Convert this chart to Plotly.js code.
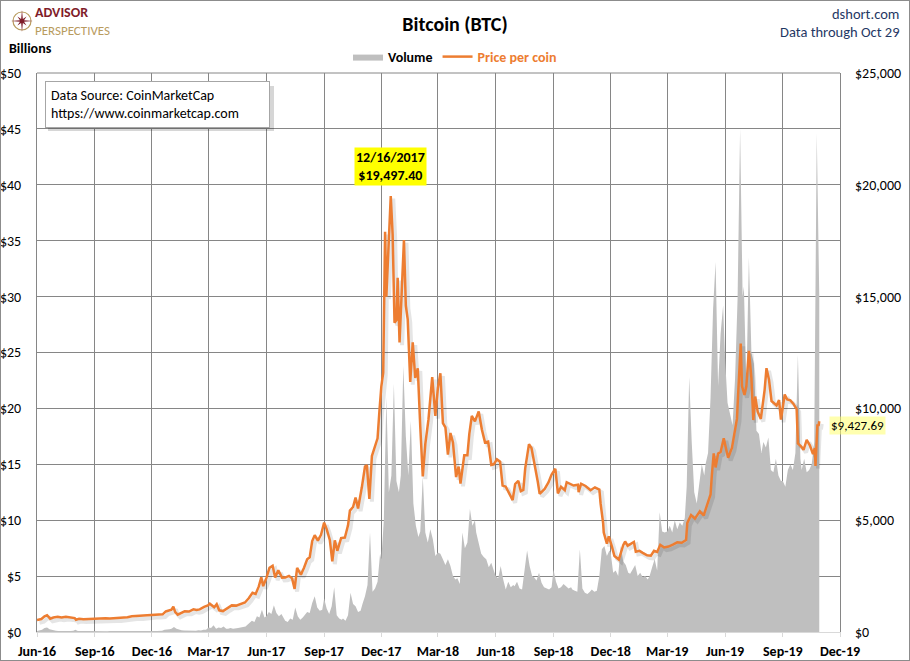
<!DOCTYPE html>
<html>
<head>
<meta charset="utf-8">
<script src="https://cdn.plot.ly/plotly-3.0.1.min.js"></script>
<style>
html,body{margin:0;padding:0;background:#fff;}
#wrap{width:908px;height:659px;border:1px solid #8c8c8c;position:relative;overflow:hidden;}
#chart{width:910px;height:661px;position:absolute;left:-1px;top:-1px;}
</style>
</head>
<body>
<div id="wrap"><div id="chart"></div></div>
<script>
// ---------------- DATA ----------------
const tickDates = ['2016-06-01','2016-09-01','2016-12-01','2017-03-01','2017-06-01','2017-09-01','2017-12-01','2018-03-01','2018-06-01','2018-09-01','2018-12-01','2019-03-01','2019-06-01','2019-09-01','2019-12-01'];
const tickLabels = ['Jun-16','Sep-16','Dec-16','Mar-17','Jun-17','Sep-17','Dec-17','Mar-18','Jun-18','Sep-18','Dec-18','Mar-19','Jun-19','Sep-19','Dec-19'];

// Price per coin (USD), [date, price]
const price2016 = [
 ['2016-06-01',537],['2016-06-08',581],['2016-06-13',705],['2016-06-17',750],['2016-06-22',596],['2016-06-27',647],
 ['2016-07-04',680],['2016-07-10',650],['2016-07-17',680],['2016-07-24',661],['2016-07-31',624],['2016-08-02',547],
 ['2016-08-07',592],['2016-08-14',570],['2016-08-21',581],['2016-08-28',574],['2016-09-04',610],['2016-09-11',607],
 ['2016-09-18',611],['2016-09-25',602],['2016-10-02',613],['2016-10-09',617],['2016-10-16',641],['2016-10-23',657],
 ['2016-10-30',700],['2016-11-06',711],['2016-11-13',702],['2016-11-20',730],['2016-11-27',735],['2016-12-04',765],
 ['2016-12-11',769],['2016-12-18',790],['2016-12-23',919],['2016-12-28',975]
];
const price2017 = [
 ['2017-01-01',998],['2017-01-04',1130],['2017-01-07',890],['2017-01-11',777],['2017-01-15',822],['2017-01-22',925],
 ['2017-01-29',914],['2017-02-05',1015],['2017-02-10',985],['2017-02-15',1010],['2017-02-22',1125],['2017-02-28',1190],
 ['2017-03-03',1265],['2017-03-10',1105],['2017-03-14',1245],['2017-03-18',970],['2017-03-24',935],['2017-03-31',1072],
 ['2017-04-07',1190],['2017-04-14',1180],['2017-04-21',1240],['2017-04-28',1317],['2017-05-04',1510],['2017-05-10',1755],
 ['2017-05-15',1700],['2017-05-20',2040],['2017-05-24',2445],['2017-05-27',2050],['2017-06-01',2410],['2017-06-06',2870],
 ['2017-06-11',2960],['2017-06-15',2440],['2017-06-20',2760],['2017-06-26',2430],['2017-07-01',2435],['2017-07-07',2510],
 ['2017-07-12',2400],['2017-07-16',1930],['2017-07-20',2870],['2017-07-26',2560],['2017-07-31',2875],['2017-08-05',3250],
 ['2017-08-09',3340],['2017-08-13',4070],['2017-08-17',4330],['2017-08-22',4090],['2017-08-27',4350],['2017-09-01',4890],
 ['2017-09-05',4600],['2017-09-10',4120],['2017-09-14',3155],['2017-09-18',4100],['2017-09-22',3630],['2017-09-28',4200],
 ['2017-10-04',4225],['2017-10-09',4770],['2017-10-12',5430],['2017-10-17',5590],['2017-10-21',6010],['2017-10-25',5525],
 ['2017-10-31',6470],['2017-11-05',7400],['2017-11-08',7460],['2017-11-12',5950],['2017-11-16',7870],['2017-11-20',8200],
 ['2017-11-25',8660],['2017-11-28',9890],['2017-12-01',10975],['2017-12-04',11600],['2017-12-07',17900],['2017-12-09',15000],
 ['2017-12-12',17275],['2017-12-16',19497.40],['2017-12-19',17775],['2017-12-22',13830],['2017-12-25',13950],['2017-12-27',15840],
 ['2017-12-30',12950]
];
const price2018 = [
 ['2018-01-02',14750],['2018-01-06',17530],['2018-01-09',14600],['2018-01-12',13980],['2018-01-16',11180],['2018-01-20',12950],
 ['2018-01-24',11360],['2018-01-28',11790],['2018-02-01',9170],['2018-02-05',6955],['2018-02-09',8400],['2018-02-14',9495],
 ['2018-02-20',11400],['2018-02-25',9665],['2018-03-01',10900],['2018-03-05',11570],['2018-03-09',9340],['2018-03-13',9150],
 ['2018-03-17',7930],['2018-03-21',8900],['2018-03-25',8480],['2018-03-30',6930],['2018-04-03',7400],['2018-04-06',6640],
 ['2018-04-12',7900],['2018-04-17',7900],['2018-04-20',8850],['2018-04-24',9660],['2018-04-29',9420],['2018-05-05',9860],
 ['2018-05-10',9060],['2018-05-15',8480],['2018-05-20',8520],['2018-05-25',7470],['2018-05-29',7500],['2018-06-03',7720],
 ['2018-06-08',7620],['2018-06-12',6550],['2018-06-17',6500],['2018-06-24',6150],['2018-06-28',5900],['2018-07-02',6620],
 ['2018-07-07',6760],['2018-07-11',6300],['2018-07-15',6350],['2018-07-18',7320],['2018-07-24',8400],['2018-07-28',8230],
 ['2018-08-02',7540],['2018-08-07',6720],['2018-08-10',6180],['2018-08-14',6270],['2018-08-18',6400],['2018-08-24',6690],
 ['2018-08-29',7040],['2018-09-04',7300],['2018-09-08',6200],['2018-09-13',6490],['2018-09-19',6340],['2018-09-22',6700],
 ['2018-09-27',6640],['2018-10-03',6550],['2018-10-10',6590],['2018-10-11',6250],['2018-10-15',6630],['2018-10-22',6530],
 ['2018-10-30',6340],['2018-11-06',6470],['2018-11-13',6370],['2018-11-15',5740],['2018-11-19',4870],['2018-11-20',4450],
 ['2018-11-25',3950],['2018-11-28',4280],['2018-12-03',3820],['2018-12-07',3400],['2018-12-14',3240],['2018-12-18',3640],
 ['2018-12-21',3880],['2018-12-24',4050],['2018-12-28',3860]
];
const price2019 = [
 ['2019-01-02',3940],['2019-01-07',4025],['2019-01-10',3590],['2019-01-16',3630],['2019-01-21',3540],['2019-01-28',3430],
 ['2019-02-03',3410],['2019-02-08',3630],['2019-02-13',3580],['2019-02-18',3900],['2019-02-24',3780],['2019-03-03',3820],
 ['2019-03-10',3910],['2019-03-17',4010],['2019-03-24',3990],['2019-03-31',4110],['2019-04-02',4880],['2019-04-08',5230],
 ['2019-04-14',5070],['2019-04-22',5400],['2019-04-28',5210],['2019-05-04',5750],['2019-05-09',6150],['2019-05-11',7000],
 ['2019-05-14',7990],['2019-05-17',7360],['2019-05-21',7980],['2019-05-25',8050],['2019-05-30',8660],['2019-06-03',8150],
 ['2019-06-06',7790],['2019-06-12',8230],['2019-06-16',8990],['2019-06-20',9530],['2019-06-22',10700],['2019-06-26',12900],
 ['2019-06-28',11000],['2019-07-02',10600],['2019-07-05',11000],['2019-07-09',12570],['2019-07-13',11350],['2019-07-16',9480],
 ['2019-07-19',10530],['2019-07-23',9850],['2019-07-28',9530],['2019-08-03',10820],['2019-08-06',11800],['2019-08-10',11280],
 ['2019-08-14',10330],['2019-08-18',10230],['2019-08-22',10130],['2019-08-26',10370],['2019-08-29',9500],['2019-09-04',10620],
 ['2019-09-08',10400],['2019-09-13',10360],['2019-09-18',10200],['2019-09-23',9970],['2019-09-25',8430],['2019-09-30',8300],
 ['2019-10-04',8150],['2019-10-09',8590],['2019-10-14',8350],['2019-10-19',7960],['2019-10-22',8220],['2019-10-23',7430],
 ['2019-10-25',8660],['2019-10-26',9245],['2019-10-28',9250],['2019-10-29',9427.69]
];

// Volume (billions USD), sampled on these days of each month
const volDays = [1,5,9,13,17,21,25,29];
const vol2016 = [ // Jun..Dec 2016
 0.10,0.12,0.20,0.35,0.40,0.25,0.18,0.15,
 0.12,0.10,0.09,0.10,0.08,0.10,0.09,0.12,
 0.20,0.10,0.08,0.07,0.07,0.08,0.08,0.07,
 0.08,0.09,0.10,0.08,0.07,0.07,0.08,0.07,
 0.07,0.08,0.07,0.08,0.08,0.09,0.10,0.12,
 0.10,0.13,0.10,0.10,0.09,0.08,0.10,0.10,
 0.10,0.10,0.10,0.10,0.12,0.20,0.20,0.25
];
const vol2017 = [ // Jan..Dec 2017
 0.30,0.45,0.30,0.20,0.15,0.13,0.12,0.14,
 0.15,0.14,0.12,0.15,0.14,0.20,0.20,0.25,
 0.40,0.35,0.60,0.30,0.40,0.35,0.50,0.30,
 0.30,0.35,0.30,0.30,0.35,0.40,0.45,0.50,
 0.60,0.80,1.00,0.90,1.40,1.30,2.00,1.30,
 1.40,1.80,1.60,2.40,1.70,1.40,1.60,1.20,
 1.00,0.90,1.20,1.10,2.20,1.40,1.10,1.30,
 1.50,1.80,1.70,2.60,3.20,2.20,1.90,2.00,
 3.00,2.10,1.60,2.30,4.00,1.50,1.20,1.10,
 1.20,1.00,1.50,3.50,2.50,2.30,1.80,1.90,
 2.50,3.20,4.20,8.90,3.60,3.90,4.50,7.00,
 6.50,10.0,21.0,12.5,14.0,22.2,13.5,12.5
];
const vol2018 = [ // Jan..Dec 2018
 14.0,23.8,17.5,14.0,18.9,11.5,9.50,8.50,
 9.00,13.9,8.90,8.00,9.20,8.30,6.80,7.00,
 7.10,7.00,6.50,6.00,6.50,5.90,5.00,4.70,
 4.80,4.30,8.90,7.50,8.00,11.0,9.50,10.0,
 8.90,8.00,7.00,6.70,6.50,5.80,6.20,5.50,
 5.00,4.80,5.90,4.70,3.80,4.50,4.00,4.20,
 4.10,4.50,3.90,3.80,5.50,7.30,5.90,5.00,
 4.90,4.60,5.30,4.40,4.00,3.90,3.80,4.00,
 5.60,4.50,3.90,4.00,4.30,4.10,3.90,4.00,
 3.80,3.70,3.60,7.40,3.90,3.50,3.40,3.60,
 3.80,3.60,3.70,5.00,7.40,7.70,6.80,7.30,
 7.10,5.30,5.50,5.00,7.70,6.30,6.00,5.30
];
const vol2019 = [ // Jan..Oct 2019
 5.20,5.60,6.00,5.00,5.30,4.90,5.00,4.70,
 5.00,5.80,6.50,5.50,10.7,9.00,8.90,9.50,
 9.00,9.50,8.90,10.0,9.20,9.80,9.50,10.2,
 13.0,22.8,17.0,12.5,11.5,13.5,15.0,14.0,
 15.0,16.0,21.0,28.9,33.1,22.0,26.7,29.2,
 24.5,20.5,19.5,18.5,22.7,29.8,45.0,30.0,
 30.9,22.0,33.5,25.0,24.0,18.0,17.7,16.0,
 17.0,16.5,17.4,14.5,14.3,15.5,14.0,13.5,
 13.5,13.0,14.5,15.0,14.5,16.0,24.8,15.5,
 14.5,15.5,14.3,14.5,15.0,17.0,44.6,30.0
];

const lastPriceLabel = '$9,427.69';
const peakLabel = '12/16/2017<br>$19,497.40';

// ---------------- BUILD ----------------
const priceAll = [].concat(price2016, price2017, price2018, price2019);
const priceX = priceAll.map(p => p[0]);
const priceY = priceAll.map(p => p[1]);

function pad(n){return (n<10?'0':'')+n;}
function monthDates(startY, startM, count){
  const out=[];
  let y=startY, m=startM;
  for(let i=0;i<count;i++){
    volDays.forEach(d=>out.push(y+'-'+pad(m)+'-'+pad(d)));
    m++; if(m>12){m=1;y++;}
  }
  return out;
}
const volX = [].concat(monthDates(2016,6,7), monthDates(2017,1,12), monthDates(2018,1,12), monthDates(2019,1,10));
const volY = [].concat(vol2016, vol2017, vol2018, vol2019);

// soft drop shadow of the price line (offset a few pixels right/down)
const shadowX = priceX.map(d => new Date(new Date(d+'T00:00:00Z').getTime()+4*864e5).toISOString().slice(0,10));
const shadowY = priceY.map(v => v - 120);

const FONT = 'Carlito, Calibri, Lato, "Open Sans", sans-serif';
const L=37, R=840, T=73, B=632;
const px = x => (x-L)/(R-L);
const py = y => (B-y)/(B-T);

// logo star path
function starPath(cx, cy){
  let s='';
  for(let k=0;k<16;k++){
    const ang = k*Math.PI/8 - Math.PI/2;
    let r;
    if(k%2===1) r=2.2; else if(k%4===0) r=11; else r=6.5;
    const x = cx + r*Math.cos(ang), y = cy + r*Math.sin(ang);
    s += (k===0?'M':'L') + px(x).toFixed(5) + ',' + py(y).toFixed(5) + ' ';
  }
  return s+'Z';
}

const traces = [
  {x: volX, y: volY, type:'scatter', mode:'lines', fill:'tozeroy', fillcolor:'#BFBFBF',
   line:{width:0, color:'#BFBFBF'}, name:'<b>Volume</b>', yaxis:'y', hoverinfo:'x+y'},
  {x: shadowX, y: shadowY, type:'scatter', mode:'lines', line:{width:4, color:'rgba(0,0,0,0.10)'},
   yaxis:'y2', showlegend:false, hoverinfo:'skip'},
  {x: priceX, y: priceY, type:'scatter', mode:'lines', line:{width:2.5, color:'#ED7D31'},
   name:'<b><span style="color:#ED7D31">Price per coin</span></b>', yaxis:'y2'}
];

const layout = {
  width:910, height:661,
  margin:{l:L, r:910-R, t:T, b:661-B, pad:0},
  paper_bgcolor:'rgba(0,0,0,0)', plot_bgcolor:'#fff',
  font:{family:FONT, size:14, color:'#000'},
  title:{text:'<b>Bitcoin (BTC)</b>', x:0.5, xref:'container', y:1-24/661, yref:'container', yanchor:'middle',
         font:{family:FONT, size:20, color:'#000'}},
  showlegend:true,
  legend:{orientation:'h', x:px(455), xanchor:'center', y:1.0, yanchor:'bottom',
          font:{family:FONT, size:14, color:'#000'}, bgcolor:'rgba(0,0,0,0)', itemwidth:30, tracegroupgap:0},
  xaxis:{type:'date', range:['2016-06-01','2019-12-01'], tickvals:tickDates, ticktext:tickLabels,
         showgrid:true, gridcolor:'#868686', gridwidth:1, ticks:'outside', ticklen:4, tickcolor:'#D9D9D9',
         showline:true, linecolor:'#D9D9D9', linewidth:1, zeroline:false,
         tickfont:{family:FONT, size:14, weight:'bold', color:'#000'}, ticklabelstandoff:2, fixedrange:true},
  yaxis:{range:[0,50], tick0:0, dtick:5, tickprefix:'$', showgrid:true, gridcolor:'#868686', gridwidth:1,
         showline:true, linecolor:'#868686', mirror:true, zeroline:false, ticks:'',
         tickfont:{family:FONT, size:14, color:'#000'}, ticklabelstandoff:12, fixedrange:true},
  yaxis2:{range:[0,25000], tick0:0, dtick:5000, tickprefix:'$', tickformat:',d', overlaying:'y', side:'right',
          showgrid:false, zeroline:false, showline:false, ticks:'',
          tickfont:{family:FONT, size:14, color:'#000'}, ticklabelstandoff:14, fixedrange:true},
  shapes:[
    {type:'line', xref:'paper', yref:'paper', x0:0, x1:1, y0:1, y1:1, line:{color:'#868686', width:1}},
    // data source box shadow
    {type:'rect', xref:'paper', yref:'paper', x0:px(48), x1:px(274), y0:py(86), y1:py(131),
     fillcolor:'rgba(0,0,0,0.16)', line:{width:0}, layer:'above'},
    // logo
    {type:'circle', xref:'paper', yref:'paper', x0:px(13), x1:px(31), y0:py(12), y1:py(30),
     line:{color:'#B89B5E', width:1.2}, fillcolor:'rgba(0,0,0,0)'},
    {type:'path', xref:'paper', yref:'paper', path:starPath(22,21), fillcolor:'#7F1D2A', line:{width:0}}
  ],
  annotations:[
    {xref:'paper', yref:'paper', x:px(45), y:py(104.5), xanchor:'left', yanchor:'middle', showarrow:false,
     text:'Data Source: CoinMarketCap<br>https://www.coinmarketcap.com', align:'left',
     bgcolor:'#fff', bordercolor:'#A6A6A6', borderwidth:1, borderpad:5, width:213, height:35,
     font:{family:FONT, size:14, color:'#000'}},
    {xref:'paper', yref:'paper', x:px(7), y:py(49), xanchor:'left', yanchor:'middle', showarrow:false,
     text:'<b>Billions</b>', font:{family:FONT, size:14, color:'#000'}},
    {xref:'paper', yref:'paper', x:px(901), y:py(14), xanchor:'right', yanchor:'middle', showarrow:false,
     text:'dshort.com', font:{family:FONT, size:14.5, color:'#1F3864'}},
    {xref:'paper', yref:'paper', x:px(901), y:py(32), xanchor:'right', yanchor:'middle', showarrow:false,
     text:'Data through Oct 29', font:{family:FONT, size:14.5, color:'#1F3864'}},
    {xref:'paper', yref:'paper', x:px(33), y:py(12.5), xanchor:'left', yanchor:'middle', showarrow:false,
     text:'<b>ADVISOR</b>', font:{family:FONT, size:14, color:'#7F1D2A'}},
    {xref:'paper', yref:'paper', x:px(33), y:py(30), xanchor:'left', yanchor:'middle', showarrow:false,
     text:'PERSPECTIVES', font:{family:FONT, size:13, color:'#B89B5E'}},
    {xref:'x', yref:'y2', x:'2017-12-16', y:19497.40, xanchor:'center', yanchor:'bottom', yshift:10, showarrow:false,
     text:'<b>'+peakLabel+'</b>', bgcolor:'#FFFF00', borderpad:1, font:{family:FONT, size:14, color:'#000'}},
    {xref:'x', yref:'y2', x:priceX[priceX.length-1], y:priceY[priceY.length-1], xanchor:'left', yanchor:'middle',
     xshift:10, yshift:-4, showarrow:false, text:lastPriceLabel, bgcolor:'rgba(255,255,110,0.55)', borderpad:1,
     font:{family:FONT, size:13, color:'#000'}}
  ]
};

Plotly.newPlot('chart', traces, layout, {staticPlot:true, displayModeBar:false});
</script>
</body>
</html>
